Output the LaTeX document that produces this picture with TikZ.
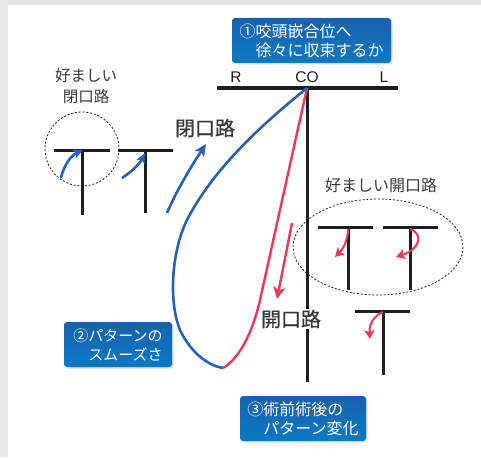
\documentclass[tikz,border=0pt]{standalone}
\usepackage{fontspec}
\setmainfont{Noto Sans CJK JP}
\newfontfamily\latinsans{Liberation Sans}
\newfontfamily\heavyjp[FakeBold=0.8]{Noto Sans CJK JP}
\usetikzlibrary{arrows.meta,shadows}
\definecolor{bg}{HTML}{E6E7E8}
\definecolor{cblue}{HTML}{2B5FB3}
\definecolor{cred}{HTML}{EE3A5A}
\definecolor{boxtop}{HTML}{1862AC}
\definecolor{boxbot}{HTML}{0A78C4}
\definecolor{ink}{HTML}{1E1E1E}
\definecolor{txt}{HTML}{3A3A3A}
\tikzset{
  bluebox/.style={rounded corners=3pt, top color=boxtop, bottom color=boxbot, draw=none,
    text=white, align=left, inner sep=0pt,
    drop shadow={opacity=0.25, shadow xshift=1.5pt, shadow yshift=-1.5pt}},
  tbar/.style={draw=ink, line width=3pt},
  axisline/.style={draw=ink, line width=3.3pt},
  blueline/.style={draw=cblue, line width=2.6pt},
  redline/.style={draw=cred, line width=2.4pt},
  bluearrow/.style={draw=cblue, line width=2.6pt, -{Stealth[length=12pt,width=11pt,inset=3pt]}},
  smallblue/.style={draw=cblue, line width=2.6pt, -{Stealth[length=10pt,width=9pt,inset=2.5pt]}},
  redarrow/.style={draw=cred, line width=2.4pt, -{Stealth[length=12pt,width=12pt,inset=3pt]}},
  smallred/.style={draw=cred, line width=2pt, -{Stealth[length=9pt,width=10pt,inset=2pt]}},
  dashring/.style={draw=ink, line width=0.8pt, dash pattern=on 2pt off 1.8pt},
  lbl/.style={text=txt, inner sep=1pt},
}
\begin{document}
\begin{tikzpicture}[x=1pt,y=-1pt]
\fill[bg] (0,0) rectangle (481,457);
\useasboundingbox (0,0) rectangle (481,457);
\fill[white] (8,5) rectangle (481,457);

% axes
\coordinate (co) at (307,88);
\coordinate (axL) at (217,88);
\coordinate (axR) at (398,88);
\coordinate (axB) at (307,382);
\draw[axisline] (axL) -- (axR);
\draw[tbar] (co) -- (axB);

% main loop
\coordinate (bot) at (223,368);
\draw[redline] (bot) .. controls (240,358) and (253,331) .. (260,300) -- (co);
\draw[blueline] (co) .. controls (270,118) and (215,165) .. (187,220)
   .. controls (172,250) and (168,300) .. (180,330)
   .. controls (192,355) and (210,366) .. (bot);

% left T's
\coordinate (t1l) at (54,151); \coordinate (t1r) at (110,151);
\coordinate (t1t) at (82,151); \coordinate (t1b) at (82,215);
\coordinate (t2l) at (118,151); \coordinate (t2r) at (173,151);
\coordinate (t2t) at (145,151); \coordinate (t2b) at (145,213);
\draw[tbar] (t1l) -- (t1r); \draw[tbar] (t1t) -- (t1b);
\draw[tbar] (t2l) -- (t2r); \draw[tbar] (t2t) -- (t2b);
\coordinate (c1) at (82,149);
\draw[dashring] (c1) circle[radius=37];

% blue arrows
\coordinate (a1s) at (61,178); \coordinate (a1e) at (83,150);
\draw[smallblue] (a1s) .. controls (64,164) and (72,155) .. (a1e);
\coordinate (a2s) at (122,178); \coordinate (a2e) at (145,153);
\draw[smallblue] (a2s) .. controls (131,172) and (139,165) .. (a2e);
\coordinate (a3s) at (167,213); \coordinate (a3e) at (206,144);
\draw[bluearrow] (a3s) .. controls (176,192) and (190,168) .. (a3e);

% red arrow along open path
\coordinate (r0s) at (292,223); \coordinate (r0e) at (277,299);
\draw[redarrow] (r0s) -- (r0e);

% right T's
\coordinate (t3l) at (318,227); \coordinate (t3r) at (373,227);
\coordinate (t3t) at (348,227); \coordinate (t3b) at (348,290);
\coordinate (t4l) at (383,227); \coordinate (t4r) at (438,227);
\coordinate (t4t) at (410,227); \coordinate (t4b) at (410,290);
\coordinate (t5l) at (355,311); \coordinate (t5r) at (410,311);
\coordinate (t5t) at (383,311); \coordinate (t5b) at (383,375);
\draw[tbar] (t3l) -- (t3r); \draw[tbar] (t3t) -- (t3b);
\draw[tbar] (t4l) -- (t4r); \draw[tbar] (t4t) -- (t4b);
\draw[tbar] (t5l) -- (t5r); \draw[tbar] (t5t) -- (t5b);
\coordinate (e1) at (378,247);
\draw[dashring] (e1) ellipse[x radius=85, y radius=48];

% red small arrows
\coordinate (b1s) at (348,229); \coordinate (b1e) at (335,257);
\draw[smallred] (b1s) .. controls (348,240) and (343,249) .. (b1e);
\coordinate (b2s) at (410,229); \coordinate (b2e) at (396,257);
\draw[smallred] (b2s) .. controls (424,234) and (420,249) .. (b2e);
\coordinate (b3s) at (383,312); \coordinate (b3e) at (370,339);
\draw[smallred] (b3s) .. controls (373,316) and (369,325) .. (b3e);

% labels
\node[lbl, font=\latinsans\fontsize{15.5}{18}\selectfont, text=ink] (R) at (236,77) {R};
\node[lbl, font=\latinsans\fontsize{15.5}{18}\selectfont, text=ink] (CO) at (307,77) {CO};
\node[lbl, font=\latinsans\fontsize{15.5}{18}\selectfont, text=ink] (L) at (384,77) {L};
\node[lbl, font=\fontsize{15.5}{21}\selectfont, align=center] (pref1) at (86,86) {好ましい\\閉口路};
\node[lbl, font=\heavyjp\fontsize{20}{24}\selectfont] (close) at (205,128) {閉口路};
\node[lbl, font=\fontsize{16}{19}\selectfont] (pref2) at (381,185) {好ましい開口路};
\node[lbl, font=\heavyjp\fontsize{20}{24}\selectfont, fill=white] (open) at (291,319) {開口路};

% boxes
\node[bluebox, minimum width=159pt, minimum height=45pt, font=\fontsize{16}{19}\selectfont] (box1) at (311.5,40.5) {①咬頭嵌合位へ\\\hspace*{1em}徐々に収束するか};
\node[bluebox, minimum width=108pt, minimum height=45pt, font=\fontsize{15}{19}\selectfont] (box2) at (118,344.5) {②パターンの\\\hspace*{1em}スムーズさ};
\node[bluebox, minimum width=126pt, minimum height=45pt, font=\fontsize{16}{19}\selectfont] (box3) at (303,418.5) {③術前術後の\\\hspace*{1em}パターン変化};
\end{tikzpicture}
\end{document}
